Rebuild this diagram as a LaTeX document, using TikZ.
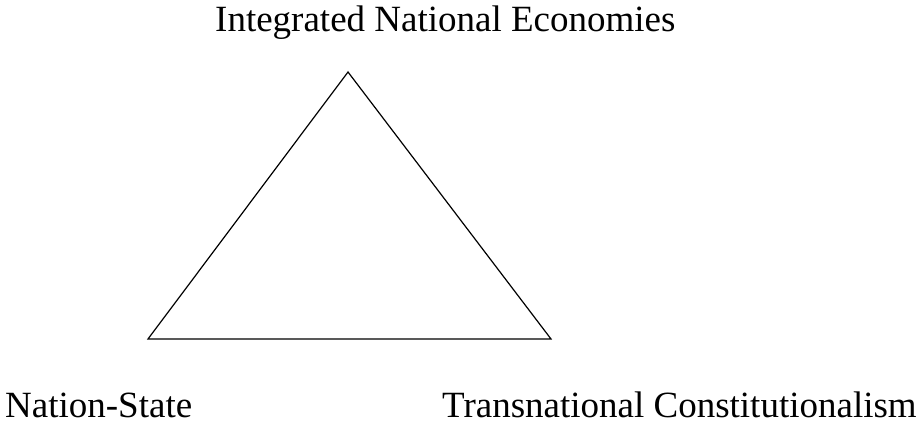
\documentclass[tikz,border=0pt]{standalone}
\usepackage{fontspec}
\setmainfont{Liberation Serif}
\begin{document}
\begin{tikzpicture}[x=1pt,y=1pt,
  lbl/.style={inner sep=0pt,font=\fontsize{37}{42}\selectfont},
  edge/.style={line width=1.2pt,line join=miter}]
\useasboundingbox (0,0) rectangle (919,423);
\coordinate (top) at (348,351);
\coordinate (bl) at (148,84);
\coordinate (br) at (551,84);
\draw[edge] (top) -- (bl) -- (br) -- cycle;
\node[lbl,anchor=base west] (ine) at (215,391) {Integrated National Economies};
\node[lbl,anchor=base west] (ns) at (5,5) {Nation-State};
\node[lbl,anchor=base west] (tc) at (442,5) {Transnational Constitutionalism};
\end{tikzpicture}
\end{document}
